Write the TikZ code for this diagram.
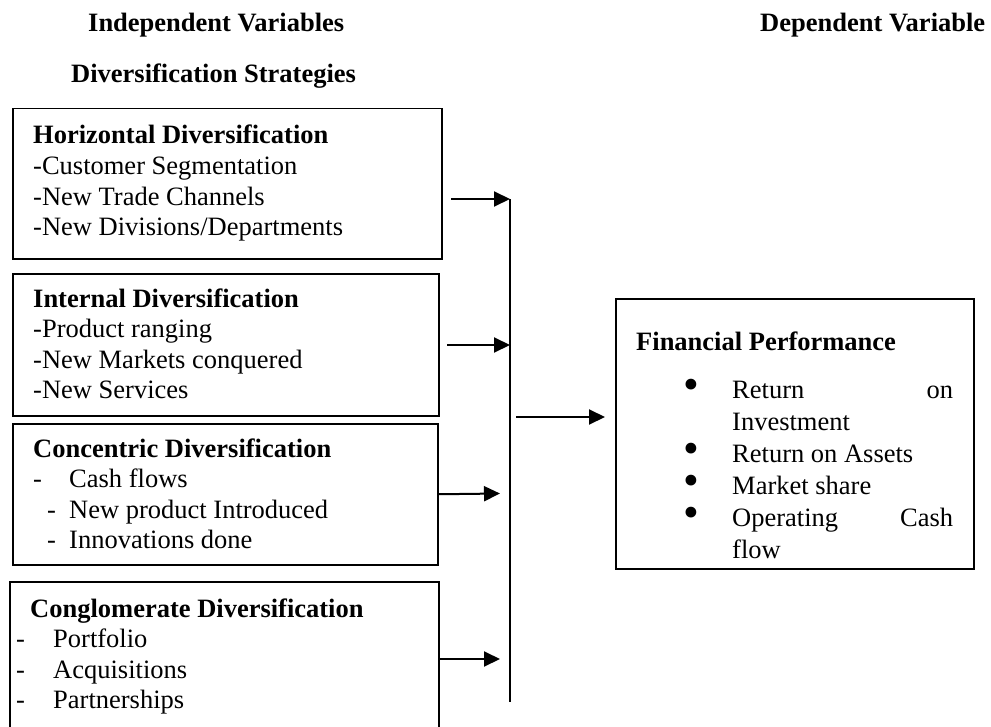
\documentclass[tikz,border=0pt]{standalone}
\usepackage{fontspec}
\usepackage{graphicx}
\setmainfont{Liberation Serif}
\usetikzlibrary{arrows.meta}
\newcommand{\bigbul}{\makebox[48bp][l]{\hspace*{-1bp}\smash{\raisebox{-1bp}{\scalebox{1.7}{\textbullet}}}}}
\begin{document}
\begin{tikzpicture}[x=1bp,y=-1bp,
  every node/.style={inner sep=0pt,font=\fontsize{26.5bp}{30.5bp}\selectfont},
  box/.style={draw,line width=1.5bp,anchor=north west},
  txt/.style={anchor=base west},
  arr/.style={line width=2bp,-{Triangle[length=16bp,width=15bp]}},
  bus/.style={line width=1.5bp}]
\useasboundingbox (0,0) rectangle (991,727);
\clip (0,0) rectangle (991,727);

% headers
\node[txt] (hind) at (88,32) {\textbf{Independent Variables}};
\node[txt] (hdiv) at (71,83) {\textbf{Diversification Strategies}};
\node[txt] (hdep) at (760,32) {\textbf{Dependent Variable}};

% boxes
\node[box,minimum width=429bp,minimum height=150bp] (h) at (12,108) {};
\node[box,minimum width=426bp,minimum height=142bp] (i) at (12,273) {};
\node[box,minimum width=425bp,minimum height=141bp] (c) at (12,423) {};
\node[box,minimum width=429bp,minimum height=180bp] (g) at (9,581) {};
\node[box,minimum width=358bp,minimum height=270bp] (f) at (615,298) {};

% texts
\node[txt] (ht) at (33,144) {\begin{tabular}[t]{@{}l@{}}
\textbf{Horizontal Diversification}\\
-Customer Segmentation\\
-New Trade Channels\\
-New Divisions/Departments
\end{tabular}};
\node[txt] (it) at (33,307) {\begin{tabular}[t]{@{}l@{}}
\textbf{Internal Diversification}\\
-Product ranging\\
-New Markets conquered\\
-New Services
\end{tabular}};
\node[txt] (ct) at (33,457) {\begin{tabular}[t]{@{}l@{}}
\textbf{Concentric Diversification}\\
\makebox[36bp][l]{-}Cash flows\\
\hspace*{14bp}\makebox[22bp][l]{-}New product Introduced\\
\hspace*{14bp}\makebox[22bp][l]{-}Innovations done
\end{tabular}};
\node[txt] (gt) at (16,617) {\begin{tabular}[t]{@{}l@{}}
\hspace*{14bp}\textbf{Conglomerate Diversification}\\
\makebox[37bp][l]{-}Portfolio\\
\makebox[37bp][l]{-}Acquisitions\\
\makebox[37bp][l]{-}Partnerships
\end{tabular}};
\node[txt] (ft) at (636,350) {\textbf{Financial Performance}};
\node[txt,font=\fontsize{26.5bp}{32bp}\selectfont] (fl) at (684,398) {\begin{tabular}[t]{@{}l@{}l@{}}
\bigbul & \makebox[221bp][s]{Return\hfill on}\\
 & Investment\\
\bigbul & Return on Assets\\
\bigbul & Market share\\
\bigbul & \makebox[221bp][s]{Operating\hfill Cash}\\
 & flow
\end{tabular}};

% bus and connectors
\coordinate (bt) at (510,199);
\coordinate (bb) at (510,702);
\draw[bus] (bt) -- (bb);
\coordinate (s1) at (451,199);
\coordinate (s2) at (447,345);
\coordinate (e3) at (500,493.5);
\coordinate (s4) at (438,659);
\coordinate (e4) at (500,659);
\coordinate (s5) at (516,417);
\coordinate (e5) at (605,417);
\draw[arr] (s1) -- (bt);
\draw[arr] (s2) -- (s2 -| bt);
\draw[arr] (c.east) -- (e3);
\draw[arr] (s4) -- (e4);
\draw[arr] (s5) -- (e5);
\end{tikzpicture}
\end{document}
